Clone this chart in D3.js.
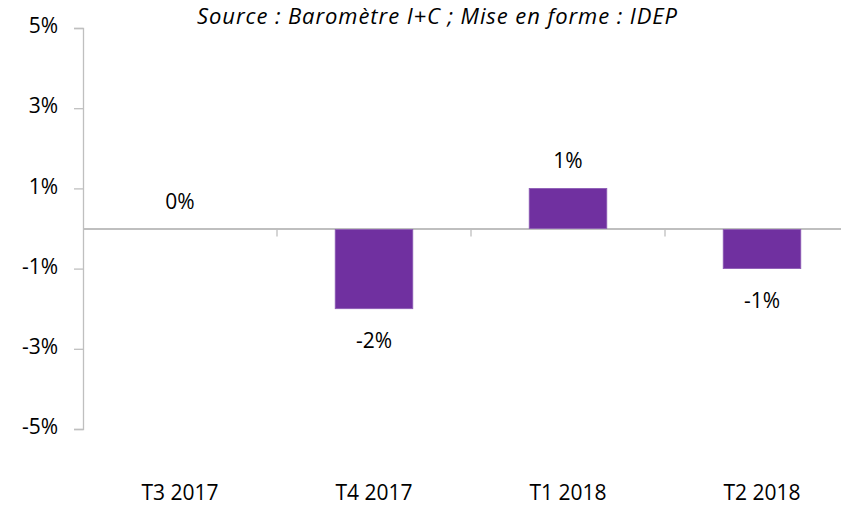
<!DOCTYPE html>
<html><head><meta charset="utf-8">
<script src="https://cdn.jsdelivr.net/npm/d3@7"></script>
<style>body{margin:0;background:#fff}svg{display:block}text{font-family:"Open Sans",sans-serif;fill:#000}</style>
</head><body><svg id="c" width="841" height="506"></svg>
<script>
const categories = ["T3 2017","T4 2017","T1 2018","T2 2018"];
const values = [0,-2,1,-1];
const labels = ["0%","-2%","1%","-1%"];
const yTicks = [-5,-3,-1,1,3,5];
const yTickLabels = ["-5%","-3%","-1%","1%","3%","5%"];
const sourceText = "Source : Baromètre I+C ; Mise en forme : IDEP";

const svg = d3.select("#c");
const x = d3.scaleBand().domain(categories).range([83,859]).padding(0);
const y = d3.scaleLinear().domain([-5,5]).range([429,28]);
const axisColor = "#bfbfbf";
const fam = "'Open Sans',sans-serif";
const fs = 21;

// source
svg.append("text").attr("x",437).attr("y",24).attr("text-anchor","middle")
  .attr("font-style","italic").attr("font-size",22)
  .attr("textLength",480).attr("lengthAdjust","spacing").text(sourceText);

// y axis
const ya = svg.append("g").attr("transform","translate(83,0)")
  .call(d3.axisLeft(y).tickValues(yTicks).tickSize(9).tickFormat((d,i)=>yTickLabels[i]).tickPadding(16));
ya.select(".domain").attr("stroke",axisColor).attr("stroke-width",1.3);
ya.selectAll(".tick line").attr("stroke",axisColor).attr("stroke-width",1.3);
ya.selectAll(".tick text").attr("font-size",fs).attr("font-family",fam).attr("fill","#000").attr("dy","0.22em");

// zero line with category ticks
const xa = svg.append("g").attr("transform",`translate(0,${y(0)})`)
  .call(d3.axisBottom(x).tickSize(0).tickFormat(""));
xa.select(".domain").attr("stroke",axisColor).attr("stroke-width",2);
xa.selectAll(".tick").remove();
svg.append("g").selectAll("line").data(categories.slice(1)).join("line")
  .attr("x1",d=>x(d)).attr("x2",d=>x(d)).attr("y1",y(0)).attr("y2",y(0)+8)
  .attr("stroke",axisColor).attr("stroke-width",1.3);

// bars
const bw = x.bandwidth()*0.4;
svg.append("g").selectAll("rect").data(values).join("rect")
  .attr("x",(d,i)=>x(categories[i])+x.bandwidth()/2-bw/2)
  .attr("width",bw)
  .attr("y",d=>d>=0?y(d):y(0)+1)
  .attr("height",d=>Math.max(0,Math.abs(y(d)-y(0))-(d<0?1:0)))
  .attr("fill","#7030a0").attr("stroke","#8c5cb5").attr("stroke-width",0.8);

// data labels
svg.append("g").selectAll("text").data(values).join("text")
  .attr("x",(d,i)=>x(categories[i])+x.bandwidth()/2)
  .attr("y",d=>d>=0?y(d)-20:y(d)+39)
  .attr("text-anchor","middle").attr("font-size",fs)
  .text((d,i)=>labels[i]);

// category labels
svg.append("g").selectAll("text").data(categories).join("text")
  .attr("x",d=>x(d)+x.bandwidth()/2).attr("y",500)
  .attr("text-anchor","middle").attr("font-size",fs).text(d=>d);
</script></body></html>
